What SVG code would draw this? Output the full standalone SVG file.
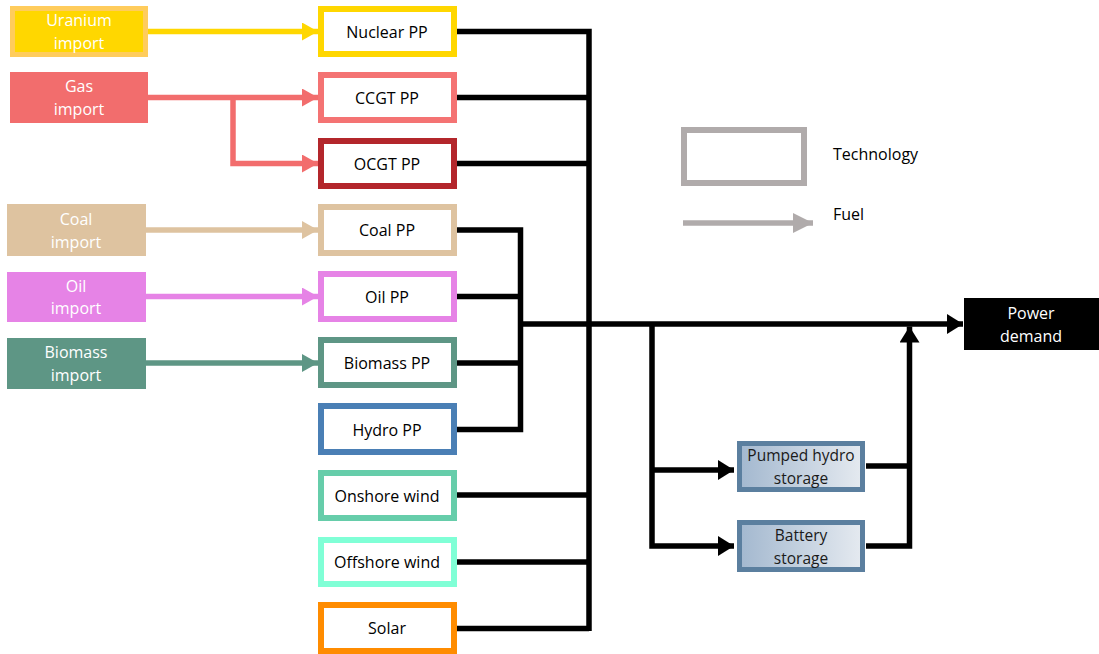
<svg xmlns="http://www.w3.org/2000/svg" width="1099" height="654" viewBox="0 0 1099 654">
<style>
text{font-family:"Open Sans","Liberation Sans",sans-serif;font-size:16px;text-anchor:middle;dominant-baseline:central}
.w{fill:#fff}
.k{fill:#000}
.s{fill:#1a1a1a;font-size:15.5px}
.tech{fill:#fff;stroke-width:6}
.bus{fill:none;stroke:#000;stroke-width:5.5;stroke-linejoin:miter;stroke-linecap:butt}
.fuel{fill:none;stroke-width:5.5}
.sto{fill:url(#g);stroke:#5B7F9F;stroke-width:5}
</style>
<defs>
<linearGradient id="g" x1="0" y1="0" x2="1" y2="0">
<stop offset="0" stop-color="#A3B8CF"/>
<stop offset="1" stop-color="#E5EAF0"/>
</linearGradient>
<marker id="ak" markerUnits="userSpaceOnUse" markerWidth="16" markerHeight="20" refX="16" refY="10" orient="auto"><path d="M0,0L16,10L0,20z" fill="#000"/></marker>
<marker id="aU" markerUnits="userSpaceOnUse" markerWidth="16" markerHeight="18" refX="16" refY="9" orient="auto"><path d="M0,0L16,9L0,18z" fill="#FFD700"/></marker>
<marker id="aG" markerUnits="userSpaceOnUse" markerWidth="16" markerHeight="18" refX="16" refY="9" orient="auto"><path d="M0,0L16,9L0,18z" fill="#F26D6D"/></marker>
<marker id="aC" markerUnits="userSpaceOnUse" markerWidth="16" markerHeight="18" refX="16" refY="9" orient="auto"><path d="M0,0L16,9L0,18z" fill="#DEC3A0"/></marker>
<marker id="aO" markerUnits="userSpaceOnUse" markerWidth="16" markerHeight="18" refX="16" refY="9" orient="auto"><path d="M0,0L16,9L0,18z" fill="#E683E6"/></marker>
<marker id="aB" markerUnits="userSpaceOnUse" markerWidth="16" markerHeight="18" refX="16" refY="9" orient="auto"><path d="M0,0L16,9L0,18z" fill="#5E9685"/></marker>
<marker id="aL" markerUnits="userSpaceOnUse" markerWidth="20" markerHeight="20" refX="20" refY="10" orient="auto"><path d="M0,0L20,10L0,20z" fill="#B0ABAB"/></marker>
</defs>
<rect width="1099" height="654" fill="#fff"/>

<g id="connectors">
<path class="fuel" stroke="#FFD700" d="M148,31.5H318" marker-end="url(#aU)"/>
<path class="fuel" stroke="#F26D6D" d="M148,97.5H318" marker-end="url(#aG)"/>
<path class="fuel" stroke="#F26D6D" d="M233,97.5V163.5H318" marker-end="url(#aG)"/>
<path class="fuel" stroke="#DEC3A0" d="M145,230H318" marker-end="url(#aC)"/>
<path class="fuel" stroke="#E683E6" d="M146,296.5H318" marker-end="url(#aO)"/>
<path class="fuel" stroke="#5E9685" d="M146,363H318" marker-end="url(#aB)"/>

<path class="bus" d="M454,31.5H589V631"/>
<path class="bus" d="M454,97.5H589"/>
<path class="bus" d="M454,163.5H589"/>
<path class="bus" d="M454,495H589"/>
<path class="bus" d="M454,562H589"/>
<path class="bus" d="M454,628.5H589"/>
<path class="bus" d="M454,230H520.5V429.5H454"/>
<path class="bus" d="M454,296.5H520.5"/>
<path class="bus" d="M454,363H520.5"/>
<path class="bus" d="M520.5,324H963" marker-end="url(#ak)"/>
<path class="bus" d="M652,324V546H734" marker-end="url(#ak)"/>
<path class="bus" d="M652,470H734" marker-end="url(#ak)"/>
<path class="bus" d="M866,466H909.5"/>
<path class="bus" d="M866,546H909.5V326.5" marker-end="url(#ak)"/>

<path class="fuel" stroke="#B0ABAB" d="M683,223H813" marker-end="url(#aL)"/>
</g>

<g id="uranium-import"><rect x="12.5" y="8.5" width="133" height="46" fill="#FFD700" stroke="#FFCC5C" stroke-width="5"/><text class="w" x="79" y="20">Uranium</text><text class="w" x="79" y="43">import</text></g>
<g id="gas-import"><rect x="10" y="72" width="138" height="51" fill="#F26D6D"/><text class="w" x="79" y="86">Gas</text><text class="w" x="79" y="109">import</text></g>
<g id="coal-import"><rect x="7" y="204" width="139" height="52" fill="#DEC3A0"/><text class="w" x="76" y="219">Coal</text><text class="w" x="76" y="242">import</text></g>
<g id="oil-import"><rect x="7" y="272" width="139" height="50" fill="#E683E6"/><text class="w" x="76" y="286">Oil</text><text class="w" x="76" y="308">import</text></g>
<g id="biomass-import"><rect x="7" y="338" width="139" height="51" fill="#5E9685"/><text class="w" x="76" y="352">Biomass</text><text class="w" x="76" y="375">import</text></g>

<g id="nuclear-pp"><rect class="tech" x="321" y="9" width="133" height="45" stroke="#FFD700"/><text class="k" x="387" y="31.5">Nuclear PP</text></g>
<g id="ccgt-pp"><rect class="tech" x="321" y="75" width="133" height="45" stroke="#F47373"/><text class="k" x="387" y="97.5">CCGT PP</text></g>
<g id="ocgt-pp"><rect class="tech" x="321" y="141" width="133" height="45" stroke="#B3262B"/><text class="k" x="387" y="163.5">OCGT PP</text></g>
<g id="coal-pp"><rect class="tech" x="321" y="207" width="133" height="46" stroke="#DEC3A0"/><text class="k" x="387" y="230">Coal PP</text></g>
<g id="oil-pp"><rect class="tech" x="321" y="274" width="133" height="45" stroke="#E683E6"/><text class="k" x="387" y="296.5">Oil PP</text></g>
<g id="biomass-pp"><rect class="tech" x="321" y="340" width="133" height="45" stroke="#5E9685"/><text class="k" x="387" y="363">Biomass PP</text></g>
<g id="hydro-pp"><rect class="tech" x="321" y="406" width="133" height="46" stroke="#4A7FB5"/><text class="k" x="387" y="429.5">Hydro PP</text></g>
<g id="onshore-wind"><rect class="tech" x="321" y="473" width="133" height="45" stroke="#66CDAA"/><text class="k" x="387" y="495.5">Onshore wind</text></g>
<g id="offshore-wind"><rect class="tech" x="321" y="540" width="133" height="44" stroke="#80FFD6"/><text class="k" x="387" y="562">Offshore wind</text></g>
<g id="solar"><rect class="tech" x="321" y="605" width="133" height="46" stroke="#FF8C00"/><text class="k" x="387" y="628">Solar</text></g>

<g id="pumped-hydro-storage"><rect class="sto" x="739.5" y="443.5" width="123" height="46"/><text class="s" x="801" y="455">Pumped hydro</text><text class="s" x="801" y="478">storage</text></g>
<g id="battery-storage"><rect class="sto" x="739.5" y="522.5" width="123" height="47"/><text class="s" x="801" y="535">Battery</text><text class="s" x="801" y="558">storage</text></g>

<g id="power-demand"><rect x="964" y="298" width="135" height="52" fill="#000"/><text class="w" x="1031" y="313">Power</text><text class="w" x="1031" y="336">demand</text></g>

<g id="legend-technology"><rect x="684" y="130" width="120" height="53" fill="#fff" stroke="#B0ABAB" stroke-width="6"/><text class="k" x="833" y="154" style="text-anchor:start">Technology</text></g>
<g id="legend-fuel"><text class="k" x="833" y="214" style="text-anchor:start">Fuel</text></g>
</svg>
